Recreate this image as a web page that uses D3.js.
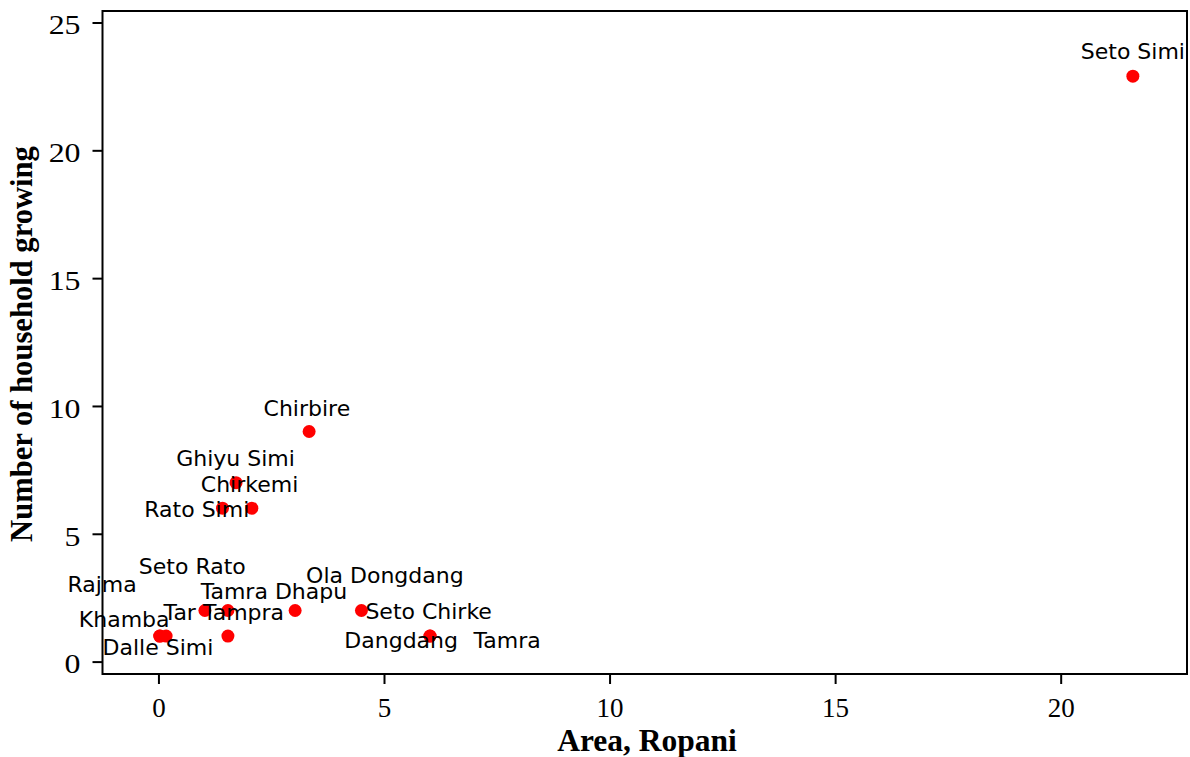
<!DOCTYPE html>
<html>
<head>
<meta charset="utf-8">
<script src="https://cdn.jsdelivr.net/npm/d3@7"></script>
<style>
  html, body { margin: 0; padding: 0; background: #fff; }
  svg { display: block; }
</style>
</head>
<body>
<div id="chart"></div>
<script>
// ---- data ----
const names = ["Seto Simi", "Chirbire", "Ghiyu Simi", "Chirkemi", "Rato Simi",
  "Seto Rato", "Rajma", "Tamra Dhapu", "Tar Tampra", "Ola Dongdang",
  "Seto Chirke", "Khamba", "Dalle Simi", "Dangdang", "Tamra"];
const area = [21.6, 3.34, 1.72, 2.07, 1.42,
  1.54, 0.03, 1.54, 1.03, 3.03,
  4.5, 0.03, 0.17, 6.02, 6.02];
const households = [22.9, 9, 7, 6, 6,
  1, 1, 2, 2, 2,
  2, 1, 1, 1, 1];
// label anchor (text centre, baseline) in data units
const labelArea = [21.6, 3.29, 1.71, 2.02, 0.85,
  0.75, -1.25, 2.56, 1.45, 5.02,
  5.99, -0.76, -0.01, 5.38, 7.73];
const labelHouseholds = [23.56, 9.61, 7.65, 6.65, 5.67,
  3.43, 2.73, 2.44, 1.63, 3.06,
  1.67, 1.34, 0.26, 0.52, 0.52];
const xTicks = [0, 5, 10, 15, 20];
const yTicks = [0, 5, 10, 15, 20, 25];
const xTitle = "Area, Ropani";
const yTitle = "Number of household growing";

// ---- layout ----
const W = 1190, H = 757;
const frame = { left: 102.5, right: 1187, top: 11, bottom: 674 };

const svg = d3.select("#chart").append("svg")
  .attr("width", W).attr("height", H);

const x = d3.scaleLinear().domain([-1.24, 22.8]).range([frame.left, frame.right]);
const y = d3.scaleLinear().domain([-0.485, 25.45]).range([frame.bottom, frame.top]);

const serif = "'Liberation Serif', 'Times New Roman', serif";
const sans = "'DejaVu Sans', Verdana, sans-serif";

// axes
const yStretch = 1.18;
const gy = svg.append("g")
  .attr("transform", `translate(${frame.left},0)`)
  .call(d3.axisLeft(y).tickValues(yTicks).tickFormat(d3.format("d")).tickSize(10).tickPadding(12));
gy.select(".domain").remove();
gy.selectAll(".tick line").attr("stroke", "#000").attr("stroke-width", 2);
gy.selectAll(".tick text")
  .attr("font-family", serif).attr("font-size", 27).attr("fill", "#000")
  .attr("x", -22 / yStretch)
  .attr("transform", `scale(${yStretch},1)`)
  .attr("dy", "0.42em");

const gx = svg.append("g")
  .attr("transform", `translate(0,${frame.bottom})`)
  .call(d3.axisBottom(x).tickValues(xTicks).tickFormat(d3.format("d")).tickSize(10).tickPadding(14));
gx.select(".domain").remove();
gx.selectAll(".tick line").attr("stroke", "#000").attr("stroke-width", 2);
gx.selectAll(".tick text")
  .attr("font-family", serif).attr("font-size", 27).attr("fill", "#000");

// frame
svg.append("rect")
  .attr("x", frame.left).attr("y", frame.top)
  .attr("width", frame.right - frame.left).attr("height", frame.bottom - frame.top)
  .attr("fill", "none").attr("stroke", "#000").attr("stroke-width", 2);

// axis titles
svg.append("text")
  .attr("x", 647).attr("y", 751)
  .attr("text-anchor", "middle")
  .attr("font-family", serif).attr("font-weight", "bold").attr("font-size", 31.5)
  .text(xTitle);

svg.append("text")
  .attr("transform", `translate(32,344) rotate(-90)`)
  .attr("text-anchor", "middle")
  .attr("font-family", serif).attr("font-weight", "bold").attr("font-size", 30.6)
  .text(yTitle);

// points
const idx = d3.range(names.length);
svg.append("g").selectAll("circle").data(idx).join("circle")
  .attr("cx", i => x(area[i])).attr("cy", i => y(households[i]))
  .attr("r", 6.5).attr("fill", "#ff0000");

// labels
svg.append("g").selectAll("text").data(idx).join("text")
  .attr("x", i => x(labelArea[i])).attr("y", i => y(labelHouseholds[i]))
  .attr("text-anchor", "middle")
  .attr("font-family", sans).attr("font-size", 22).attr("fill", "#000")
  .text(i => names[i]);
</script>
</body>
</html>
